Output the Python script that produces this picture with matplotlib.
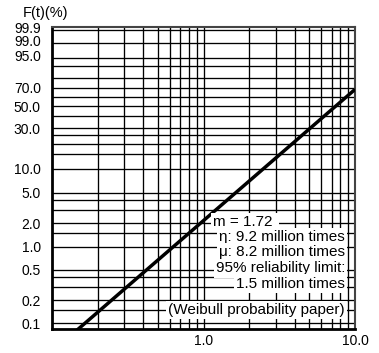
import numpy as np
import matplotlib
matplotlib.use('Agg')
import matplotlib.pyplot as plt
from matplotlib.transforms import ScaledTranslation

plt.rcParams['font.family'] = ['Liberation Sans', 'DejaVu Sans']

# Weibull parameters (shape m, scale eta in million times)
m_shape = 1.72
eta = 9.2
t_range = [0.1, 10.0]

# Y axis: cumulative failure F(t) in %
f_labels = [99.9, 99.0, 95.0, 70.0, 50.0, 30.0, 10.0, 5.0, 2.0, 1.0, 0.5, 0.2, 0.1]
f_minor = [90, 80, 60, 40, 25, 20, 15, 4, 3, 1.5, 0.4, 0.3, 0.15]
# X axis: times (million)
x_major = [1.0, 10.0]
x_minor = [0.2, 0.3, 0.4, 0.5, 0.6, 0.7, 0.8, 0.9, 2, 3, 4, 5, 6, 7, 8, 9]

info_lines = ['η: 9.2 million times', 'μ: 8.2 million times',
              '95% reliability limit:', '1.5 million times']


def weib(f):
    # Weibull paper transform of F in %
    return np.log(-np.log(1 - np.asarray(f) / 100.0))


fig = plt.figure(figsize=(3.79, 3.53), dpi=100)
ax = fig.add_axes([0.137, 0.0694, 0.800, 0.855])

# fitted line
t = np.array(t_range)
ax.plot(t, m_shape * np.log(t / eta), color='black', lw=2.5, zorder=3, solid_capstyle='butt')

ax.set_xscale('log')
ax.set_xlim(0.1, 10)
ax.set_ylim(-7.073, 2.033)

ax.set_xticks(x_major)
ax.set_xticklabels(['%.1f' % v for v in x_major])
ax.set_xticks(x_minor, minor=True)
ax.set_xticklabels([], minor=True)
ax.set_yticks(weib(f_labels))
ax.set_yticklabels(['%.1f' % v for v in f_labels])
ax.set_yticks(weib(f_minor), minor=True)
ax.grid(True, which='both', color='black', lw=0.95, zorder=1)
ax.set_axisbelow(True)
ax.tick_params(which='both', length=0, labelsize=10)
ax.tick_params(axis='y', pad=8)
ax.tick_params(axis='x', pad=4)

# spread the crowded top labels
lbls = ax.get_yticklabels()
for lab, dy in zip(lbls[:3], [2.5, 3.0, 2.5]):
    lab.set_transform(lab.get_transform() + ScaledTranslation(0, dy / 100.0, fig.dpi_scale_trans))

for side in ['left', 'bottom']:
    ax.spines[side].set_linewidth(2)
for side in ['top', 'right']:
    ax.spines[side].set_linewidth(1.5)
    ax.spines[side].set_color('#444444')

fig.text(46 / 379, 1 - 12.5 / 353, 'F(t)(%)', fontsize=10.5, ha='center', va='center')

box = dict(facecolor='white', edgecolor='none', pad=1.5)
ax.text(0.531, 0.354, 'm = 1.72 ', transform=ax.transAxes, fontsize=11,
        ha='left', va='center', bbox=box, zorder=4)
for txt, yy in zip(info_lines, [0.302, 0.254, 0.199, 0.149]):
    ax.text(0.967, yy, txt, transform=ax.transAxes, fontsize=11,
            ha='right', va='center', bbox=box, zorder=4)
ax.text(0.967, 0.061, '(Weibull probability paper)', transform=ax.transAxes, fontsize=11,
        ha='right', va='center', bbox=box, zorder=4)

fig.savefig('out.png', dpi=100)
